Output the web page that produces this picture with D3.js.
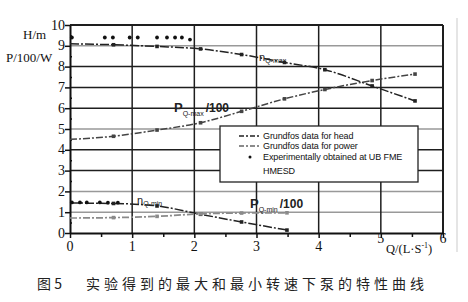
<!DOCTYPE html>
<html>
<head>
<meta charset="utf-8">
<script src="https://cdn.jsdelivr.net/npm/d3@7"></script>
<style>
  body { margin: 0; background: #fff; }
  svg { display: block; }
</style>
</head>
<body>
<script>
// Size of the picture
const width = 468;
const height = 302;

// Flow rate of the Grundfos points, L/s
const qGrid = [0, 0.7, 1.4, 2.1, 2.76, 3.45, 4.1, 4.86, 5.55];
const headMax = [9.1, 9.05, 8.97, 8.85, 8.58, 8.2, 7.85, 7.07, 6.35];
const powerMax = [4.5, 4.65, 4.95, 5.3, 5.85, 6.45, 6.9, 7.33, 7.64];

const qMin = [0, 0.7, 1.4, 2.1, 2.76, 3.49];
const headMin = [1.44, 1.42, 1.3, 0.9, 0.53, 0.14];
const powerMin = [0.72, 0.74, 0.8, 0.92, 0.96, 0.97];

// Experimental points (UB FME HMESD)
const expMaxQ = [0.03, 0.56, 0.69, 0.96, 1.09, 1.4, 1.56, 1.69, 1.8, 1.93];
const expMaxH = [9.4, 9.4, 9.4, 9.4, 9.4, 9.4, 9.4, 9.4, 9.4, 9.3];
const expMinQ = [0.03, 0.16, 0.27, 0.48, 0.61, 0.77];
const expMinH = [1.47, 1.47, 1.47, 1.47, 1.46, 1.46];

const xTicks = [0, 1, 2, 3, 4, 5, 6];
const yTicks = [0, 1, 2, 3, 4, 5, 6, 7, 8, 9, 10];
const lightGrid = [1, 2, 5, 9];

const legendItems = ["Grundfos data for head", "Grundfos data for power", "Experimentally obtained at UB FME"];
const caption = "图 5";
const captionText = "实验得到的最大和最小转速下泵的特性曲线";

const x = d3.scaleLinear().domain([0, 6]).range([70, 443]);
const y = d3.scaleLinear().domain([0, 10]).range([233, 25]);

const svg = d3.select("body")
    .append("svg")
    .attr("width", width)
    .attr("height", height)
    .attr("viewBox", [0, 0, width, height]);

const serif = "'Liberation Serif', 'DejaVu Serif', serif";
const sans = "'Liberation Sans', Arial, sans-serif";

// faint border at right of the scan
svg.append("line")
    .attr("x1", 457).attr("x2", 457)
    .attr("y1", 18).attr("y2", 252)
    .attr("stroke", "#d4d4d4")
    .attr("stroke-width", 1.2);

// grid
const grid = svg.append("g");
grid.selectAll("line.h")
    .data(yTicks.slice(1))
    .join("line")
    .attr("class", "h")
    .attr("x1", x(0)).attr("x2", x(6))
    .attr("y1", d => y(d)).attr("y2", d => y(d))
    .attr("stroke", d => lightGrid.includes(d) ? "#999" : "#1e1e1e")
    .attr("stroke-width", d => d === 10 ? 2 : 1.5);

grid.selectAll("line.v")
    .data(xTicks.slice(1))
    .join("line")
    .attr("class", "v")
    .attr("x1", d => x(d)).attr("x2", d => x(d))
    .attr("y1", y(0)).attr("y2", y(10))
    .attr("stroke", "#1e1e1e")
    .attr("stroke-width", d => d === 6 ? 2 : 1.5);

// axes
const xAxis = d3.axisBottom(x)
    .tickValues(d3.range(0, 6.01, 0.5))
    .tickSize(0)
    .tickFormat("");
const yAxis = d3.axisLeft(y)
    .tickValues(d3.range(0, 10.01, 0.5))
    .tickSize(0)
    .tickFormat("");

const gx = svg.append("g").attr("transform", `translate(0,${y(0)})`).call(xAxis);
const gy = svg.append("g").attr("transform", `translate(${x(0)},0)`).call(yAxis);
gx.select(".domain").attr("stroke", "#111").attr("stroke-width", 2);
gy.select(".domain").attr("stroke", "#111").attr("stroke-width", 2);
gx.selectAll(".tick line")
    .attr("y2", d => Number.isInteger(d) ? 5 : 4)
    .attr("stroke", "#111").attr("stroke-width", 1.5);
gy.selectAll(".tick line")
    .attr("x2", d => Number.isInteger(d) ? -5 : 0)
    .attr("x1", d => Number.isInteger(d) ? 0 : 2)
    .attr("stroke", "#111").attr("stroke-width", 1.5);

svg.append("g")
    .selectAll("text")
    .data(yTicks)
    .join("text")
    .attr("x", x(0) - 5)
    .attr("y", d => y(d) + 4.5)
    .attr("text-anchor", "end")
    .attr("font-family", serif)
    .attr("font-size", 14)
    .attr("fill", "#111")
    .text(d => d);

svg.append("g")
    .selectAll("text")
    .data(xTicks)
    .join("text")
    .attr("x", d => x(d))
    .attr("y", d => d >= 5 ? 243 : 251)
    .attr("text-anchor", "middle")
    .attr("font-family", serif)
    .attr("font-size", 14)
    .attr("fill", "#111")
    .text(d => d);

const qLabel = svg.append("text")
    .attr("x", 386).attr("y", 253)
    .attr("font-family", serif)
    .attr("font-size", 12.5)
    .attr("fill", "#111");
qLabel.append("tspan").text("Q/(L·S");
qLabel.append("tspan").attr("font-size", 8).attr("dy", -5).text("-1");
qLabel.append("tspan").attr("dy", 5).text(")");

svg.append("text")
    .attr("x", 23).attr("y", 39)
    .attr("font-family", serif).attr("font-size", 13).attr("fill", "#111")
    .text("H/m");
svg.append("text")
    .attr("x", 6).attr("y", 62)
    .attr("font-family", serif).attr("font-size", 13).attr("fill", "#111")
    .text("P/100/W");

// curves
const line = d3.line()
    .x(d => x(d[0]))
    .y(d => y(d[1]))
    .curve(d3.curveMonotoneX);

const curves = [
  { q: qGrid, v: headMax, color: "#222", dash: "9,2,2,2", w: 1.5 },
  { q: qGrid, v: powerMax, color: "#444", dash: "7,2,2,2", w: 1.5 },
  { q: qMin, v: headMin, color: "#222", dash: "9,2,2,2", w: 1.5 },
  { q: qMin, v: powerMin, color: "#8a8a8a", dash: "7,2,2,2", w: 1.7 }
];

const plot = svg.append("g");
curves.forEach(c => {
  const pts = c.q.map((q, i) => [q, c.v[i]]);
  plot.append("path")
      .datum(pts)
      .attr("d", line)
      .attr("fill", "none")
      .attr("stroke", c.color)
      .attr("stroke-width", c.w)
      .attr("stroke-dasharray", c.dash);
  plot.selectAll(null)
      .data(pts.slice(1))
      .join("rect")
      .attr("x", d => x(d[0]) - 1.8)
      .attr("y", d => y(d[1]) - 1.8)
      .attr("width", 3.6).attr("height", 3.6)
      .attr("fill", c.color);
});

plot.selectAll("circle.emax")
    .data(expMaxQ.map((q, i) => [q, expMaxH[i]]))
    .join("circle")
    .attr("class", "emax")
    .attr("cx", d => x(d[0])).attr("cy", d => y(d[1]))
    .attr("r", 1.9)
    .attr("fill", "#111");
plot.selectAll("circle.emin")
    .data(expMinQ.map((q, i) => [q, expMinH[i]]))
    .join("circle")
    .attr("class", "emin")
    .attr("cx", d => x(d[0])).attr("cy", d => y(d[1]))
    .attr("r", 1.9)
    .attr("fill", "#111");

// in-plot labels
function nLabel(px, py, sub) {
  const t = svg.append("text")
      .attr("x", px).attr("y", py)
      .attr("font-family", sans).attr("fill", "#222");
  t.append("tspan").attr("font-size", 11).text("n");
  t.append("tspan").attr("font-size", 7).attr("dy", 2).text(sub);
}
nLabel(259, 61, "Q-max");
nLabel(137, 204, "Q-min");

function pLabel(px, py, sub) {
  const t = svg.append("text")
      .attr("x", px).attr("y", py)
      .attr("font-family", sans).attr("font-weight", "bold").attr("fill", "#222");
  t.append("tspan").attr("font-size", 13).text("P");
  t.append("tspan").attr("font-size", 7).attr("font-weight", "normal").attr("dy", 4).text(sub);
  t.append("tspan").attr("font-size", 12).attr("dy", -4).attr("dx", 2).text("/100");
}
pLabel(174, 112, "Q-max");
pLabel(250, 208, "Q-min");

// legend
const legend = svg.append("g");
legend.append("rect")
    .attr("x", 220).attr("y", 126)
    .attr("width", 198).attr("height", 56)
    .attr("fill", "#fff")
    .attr("stroke", "#222")
    .attr("stroke-width", 1.3);

const legendY = [136, 146, 157];
legend.append("line")
    .attr("x1", 239).attr("x2", 261).attr("y1", legendY[0]).attr("y2", legendY[0])
    .attr("stroke", "#222").attr("stroke-width", 1.3).attr("stroke-dasharray", "5,2,2,2");
legend.append("line")
    .attr("x1", 239).attr("x2", 261).attr("y1", legendY[1]).attr("y2", legendY[1])
    .attr("stroke", "#666").attr("stroke-width", 1.3).attr("stroke-dasharray", "5,2,2,2");
legend.append("circle")
    .attr("cx", 250).attr("cy", legendY[2]).attr("r", 1.5).attr("fill", "#111");

legend.selectAll("text")
    .data(legendItems)
    .join("text")
    .attr("x", 263)
    .attr("y", (d, i) => legendY[i] + 3)
    .attr("font-family", sans)
    .attr("font-size", 9)
    .attr("letter-spacing", -0.1)
    .attr("fill", "#111")
    .text(d => d);
legend.append("text")
    .attr("x", 263).attr("y", 174)
    .attr("font-family", sans).attr("font-size", 9)
    .attr("letter-spacing", -0.1).attr("fill", "#111")
    .text("HMESD");

// caption
svg.append("text")
    .attr("x", 37).attr("y", 289)
    .attr("font-family", "'Noto Sans CJK SC', sans-serif")
    .attr("font-size", 14)
    .attr("fill", "#222")
    .attr("xml:space", "preserve")
    .text(caption);
svg.append("text")
    .attr("x", 86).attr("y", 289)
    .attr("font-family", "'Noto Sans CJK SC', sans-serif")
    .attr("font-size", 14)
    .attr("letter-spacing", 4)
    .attr("fill", "#222")
    .text(captionText);
</script>
</body>
</html>
